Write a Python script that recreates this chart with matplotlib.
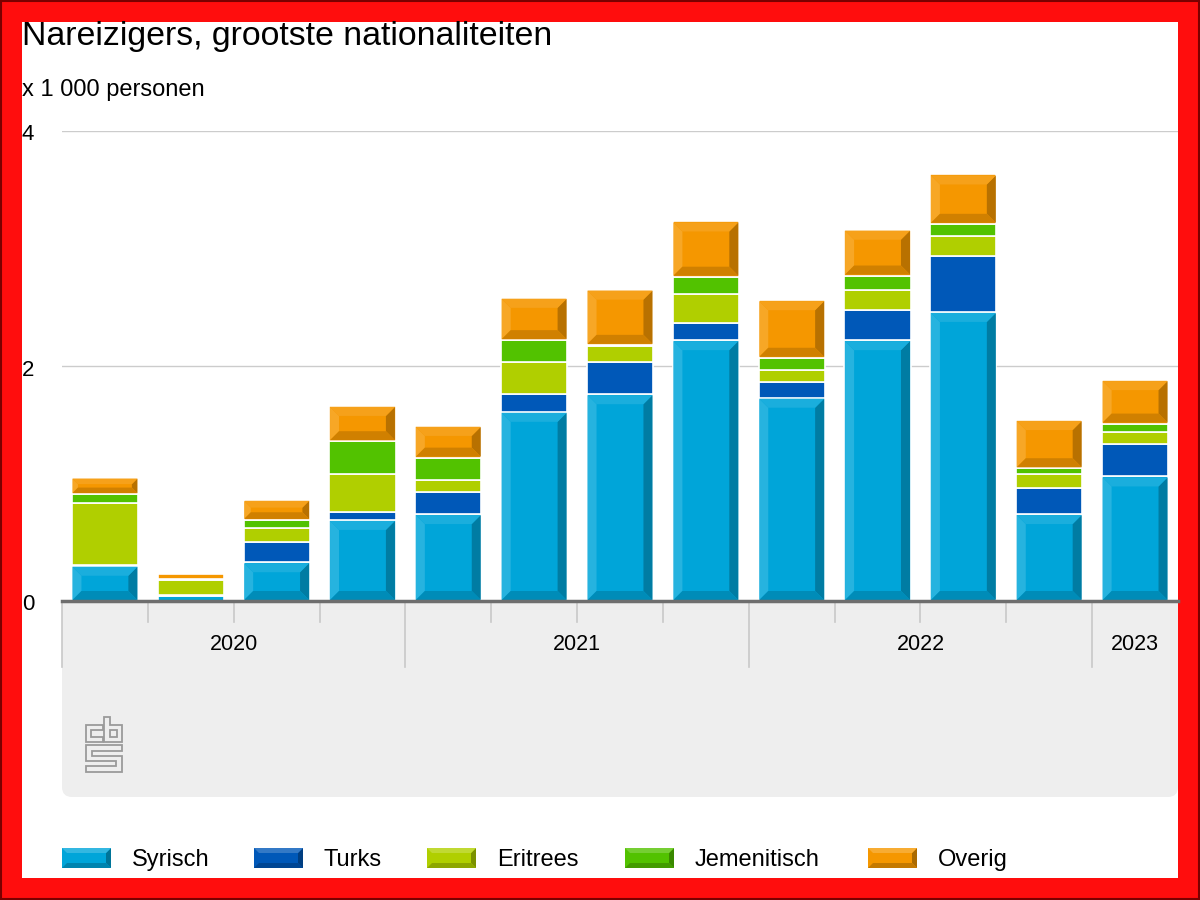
import numpy as np
import matplotlib
matplotlib.use('Agg')
import matplotlib.pyplot as plt
from matplotlib.patches import Rectangle, FancyBboxPatch, Polygon
from matplotlib.transforms import blended_transform_factory
from matplotlib.colors import to_rgb

plt.rcParams['font.family'] = ['Liberation Sans', 'DejaVu Sans']

# Data (x 1 000 personen), per kwartaal 2020 Q1 .. 2023 Q1
quarters = ['2020 K1', '2020 K2', '2020 K3', '2020 K4',
            '2021 K1', '2021 K2', '2021 K3', '2021 K4',
            '2022 K1', '2022 K2', '2022 K3', '2022 K4',
            '2023 K1']
years = ['2020', '2021', '2022', '2023']
quarters_per_year = [4, 4, 4, 1]

syrisch = [0.30, 0.04, 0.33, 0.69, 0.74, 1.61, 1.76, 2.22, 1.73, 2.22, 2.46, 0.74, 1.06]
turks = [0.01, 0.01, 0.17, 0.07, 0.19, 0.15, 0.27, 0.15, 0.13, 0.26, 0.48, 0.22, 0.28]
eritrees = [0.52, 0.13, 0.12, 0.32, 0.10, 0.27, 0.14, 0.24, 0.11, 0.17, 0.17, 0.12, 0.10]
jemenitisch = [0.08, 0.01, 0.07, 0.28, 0.19, 0.19, 0.01, 0.15, 0.10, 0.12, 0.10, 0.05, 0.07]
overig = [0.14, 0.04, 0.17, 0.30, 0.27, 0.36, 0.47, 0.47, 0.49, 0.39, 0.42, 0.41, 0.37]

series_names = ['Syrisch', 'Turks', 'Eritrees', 'Jemenitisch', 'Overig']
series_values = [syrisch, turks, eritrees, jemenitisch, overig]
series_colors = ['#00a5d9', '#0058b8', '#b0cf00', '#52c200', '#f59700']
series_glossy = [True, False, False, False, True]

yticks = [0, 2, 4]


def shade(color, f):
    """f > 0 lightens, f < 0 darkens"""
    c = np.array(to_rgb(color))
    if f > 0:
        return tuple(c + (1 - c) * f)
    return tuple(c * (1 + f))


def bevel(ax, x0, x1, y0, y1, color, bx, by):
    # 3d-like glossy bar: light left/top edge, dark right/bottom edge
    ax.add_patch(Polygon([(x0, y0), (x0 + bx, y0 + by), (x0 + bx, y1 - by), (x0, y1)],
                         closed=True, facecolor=shade(color, 0.15), edgecolor='none', zorder=3))
    ax.add_patch(Polygon([(x1, y0), (x1 - bx, y0 + by), (x1 - bx, y1 - by), (x1, y1)],
                         closed=True, facecolor=shade(color, -0.25), edgecolor='none', zorder=3))
    ax.add_patch(Polygon([(x0, y0), (x1, y0), (x1 - bx, y0 + by), (x0 + bx, y0 + by)],
                         closed=True, facecolor=shade(color, -0.15), edgecolor='none', zorder=3))
    ax.add_patch(Polygon([(x0, y1), (x1, y1), (x1 - bx, y1 - by), (x0 + bx, y1 - by)],
                         closed=True, facecolor=shade(color, 0.1), edgecolor='none', zorder=3))


W, H = 1200, 900
fig = plt.figure(figsize=(12, 9), dpi=100)
fig.patch.set_facecolor('#ff0d0d')

# white canvas inside the red frame (pixel coords via inches)
inch = fig.dpi_scale_trans
fig.patches.append(Rectangle((0.01, 0.01), 11.98, 8.98, transform=inch, facecolor='none',
                             edgecolor='#7a0000', linewidth=1.5, zorder=-10))
fig.patches.append(Rectangle((0.22, 0.22), 11.56, 8.56, transform=inch, facecolor='white',
                             edgecolor='none', zorder=-10))

# grey area under the axis
fig.patches.append(FancyBboxPatch((0.62, (H - 797) / 100), 11.16, (797 - 602) / 100,
                                  boxstyle='round,pad=0,rounding_size=0.1', transform=inch,
                                  facecolor='#eeeeee', edgecolor='none', zorder=-9))
fig.patches.append(Rectangle((0.62, (H - 660) / 100), 11.16, 0.58, transform=inch,
                             facecolor='#eeeeee', edgecolor='none', zorder=-9))

ax = fig.add_axes([62 / W, 1 - 601 / H, 1116 / W, 470 / H])
ax.set_xlim(-0.5, len(quarters) - 0.5)
ax.set_ylim(0, 4)
ax.set_facecolor('none')
for s in ['left', 'right', 'top']:
    ax.spines[s].set_visible(False)
ax.spines['bottom'].set_color('#6e6e6e')
ax.spines['bottom'].set_linewidth(2.5)
ax.spines['bottom'].set_zorder(5)
ax.set_xticks([])
ax.set_yticks([])

for v in yticks[1:]:
    ax.axhline(v, color='#cccccc', linewidth=1, zorder=0)

px_x = (len(quarters)) / 1116.0  # data units per pixel in x
px_y = 4 / 470.0

# y labels at left edge of white canvas
ytrans = blended_transform_factory(fig.transFigure, ax.transData)
for v in yticks:
    ax.text(22 / W, v - 4 * px_y, str(v), transform=ytrans, ha='left', va='center',
            fontsize=16, color='#000000')

# bars
x = np.arange(len(quarters))
bar_w = 0.77
bottom = np.zeros(len(quarters))
for name, vals, col, glossy in zip(series_names, series_values, series_colors, series_glossy):
    vals = np.array(vals)
    ax.bar(x, vals, bottom=bottom, width=bar_w, color=col, edgecolor='white',
           linewidth=1.2, zorder=2, label=name)
    if glossy:
        for i in range(len(x)):
            hpx = vals[i] / px_y
            if hpx < 10:
                continue
            b = min(9, hpx / 3)
            x0 = x[i] - bar_w / 2 + 0.6 * px_x
            x1 = x[i] + bar_w / 2 - 0.6 * px_x
            y0 = bottom[i] + 1 * px_y
            y1 = bottom[i] + vals[i] - 1 * px_y
            bevel(ax, x0, x1, y0, y1, col, b * px_x, b * px_y)
    bottom += vals

# x axis: quarter ticks, year separators and year labels
xt = blended_transform_factory(ax.transData, fig.transFigure)
start = 0
for yr, n in zip(years, quarters_per_year):
    ax.plot([start - 0.5, start - 0.5], [1 - 603 / H, 1 - 667 / H], color='#c8c8c8',
            linewidth=1.2, transform=xt, clip_on=False, zorder=1)
    for q in range(1, n):
        ax.plot([start + q - 0.5] * 2, [1 - 603 / H, 1 - 622 / H], color='#c8c8c8',
                linewidth=1.2, transform=xt, clip_on=False, zorder=1)
    ax.text(start + (n - 1) / 2, 1 - 645 / H, yr, transform=xt, ha='center', va='center',
            fontsize=15.5, color='#000000')
    start += n

# cbs logo (outline drawing)
logo_shapes = [
    [(86, 725), (103, 725), (103, 730), (91, 730), (91, 737), (103, 737), (103, 742), (86, 742)],
    [(104, 717), (110, 717), (110, 725), (122, 725), (122, 742), (104, 742)],
    [(110, 730), (117, 730), (117, 737), (110, 737)],
    [(86, 745), (122, 745), (122, 751), (92, 751), (92, 756), (122, 756), (122, 772),
     (86, 772), (86, 766), (116, 766), (116, 761), (86, 761)],
]
for shp in logo_shapes:
    fig.patches.append(Polygon([(px / 100, (H - py) / 100) for px, py in shp], closed=True,
                               transform=inch, facecolor='none', edgecolor='#9a9a9a',
                               linewidth=1.3))

# titles
fig.text(22 / W, 1 - 37 / H, 'Nareizigers, grootste nationaliteiten', ha='left', va='center',
         fontsize=24.4, color='#000000')
fig.text(22 / W, 1 - 90 / H, 'x 1 000 personen', ha='left', va='center', fontsize=17,
         color='#000000')

# legend
leg_patch_x = [62, 254, 427, 625, 868]
for name, col, lx in zip(series_names, series_colors, leg_patch_x):
    x0, x1 = lx / 100, (lx + 49) / 100
    y0, y1 = (H - 868) / 100, (H - 848) / 100
    fig.patches.append(Rectangle((x0, y0), x1 - x0, y1 - y0, transform=inch, facecolor=col,
                                 edgecolor='none'))
    b = 0.05
    fig.patches.append(Polygon([(x1, y0), (x1 - b, y0 + b), (x1 - b, y1 - b), (x1, y1)],
                               closed=True, transform=inch, facecolor=shade(col, -0.3),
                               edgecolor='none'))
    fig.patches.append(Polygon([(x0, y0), (x1, y0), (x1 - b, y0 + b), (x0 + b, y0 + b)],
                               closed=True, transform=inch, facecolor=shade(col, -0.2),
                               edgecolor='none'))
    fig.patches.append(Polygon([(x0, y1), (x1, y1), (x1 - b, y1 - b), (x0 + b, y1 - b)],
                               closed=True, transform=inch, facecolor=shade(col, 0.2),
                               edgecolor='none'))
    fig.text((lx + 70) / W, 1 - 860 / H, name, ha='left', va='center', fontsize=17,
             color='#000000')

fig.savefig('out.png', dpi=100, facecolor=fig.get_facecolor())
